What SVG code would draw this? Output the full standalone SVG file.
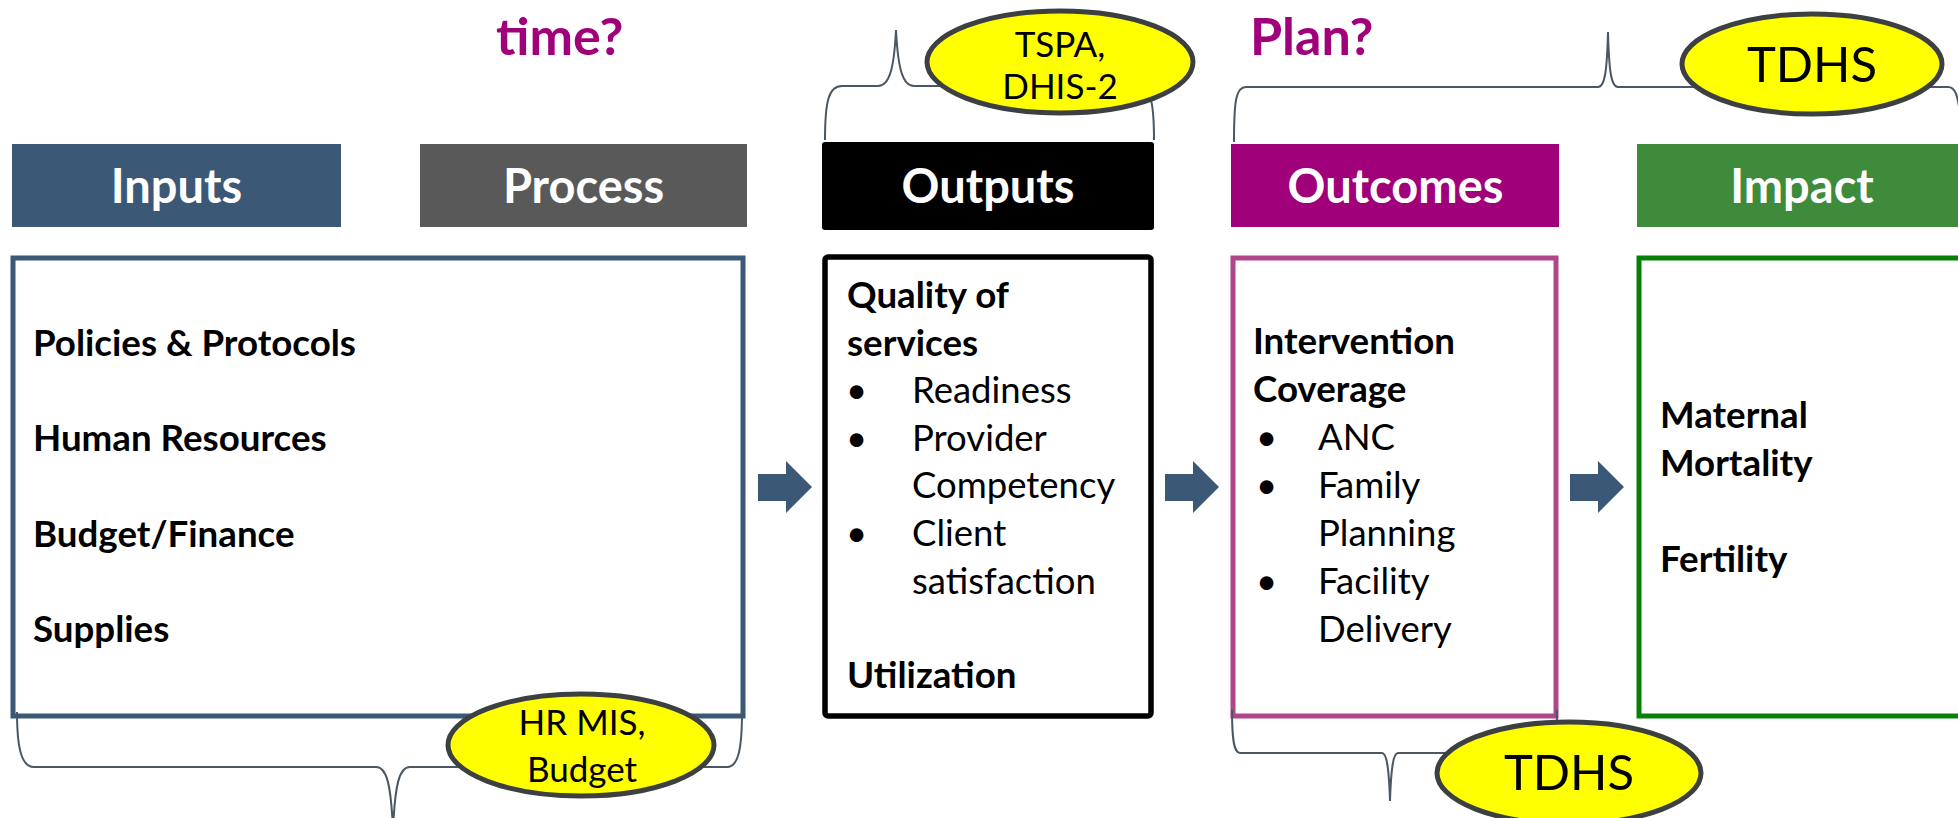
<svg xmlns="http://www.w3.org/2000/svg" width="1958" height="818" viewBox="0 0 1958 818">
<defs>
<style>
.hdr{font-family:Lato,"Open Sans","Liberation Sans",sans-serif;font-weight:700;font-size:47px;fill:#fff;text-anchor:middle}
.b{font-family:Lato,"Open Sans","Liberation Sans",sans-serif;font-weight:700;font-size:36.7px;fill:#000}
.r{font-family:Lato,"Open Sans","Liberation Sans",sans-serif;font-weight:400;font-size:36.5px;fill:#000}
.q{font-family:Lato,"Open Sans","Liberation Sans",sans-serif;font-weight:700;font-size:52px;fill:#A0007A}
.et{font-family:Lato,"Open Sans","Liberation Sans",sans-serif;font-weight:400;font-size:35px;fill:#000;text-anchor:middle}
.eb{font-family:Lato,"Open Sans","Liberation Sans",sans-serif;font-weight:400;font-size:49px;fill:#000;text-anchor:middle}
.brace{fill:none;stroke:#4B5763;stroke-width:2}
.ell{fill:#FFFF00;stroke:#3C4043;stroke-width:5}
.arrow{fill:#3B5877}
</style>
</defs>
<rect width="1958" height="818" fill="#fff"/>

<text class="q" x="496" y="55">time?</text>
<text class="q" x="1250" y="55">Plan?</text>

<g id="inputs">
<rect x="12" y="144" width="329" height="83" fill="#3B5877"/>
<text class="hdr" x="176.5" y="203">Inputs</text>
<rect x="13" y="258" width="730" height="458" fill="none" stroke="#3B5877" stroke-width="5"/>
<text class="b" x="33" y="356">Policies &amp; Protocols</text>
<text class="b" x="33" y="451">Human Resources</text>
<text class="b" x="33" y="547">Budget/Finance</text>
<text class="b" x="33" y="642">Supplies</text>
</g>

<g id="process">
<rect x="420" y="144" width="327" height="83" fill="#595959"/>
<text class="hdr" x="583.5" y="203">Process</text>
</g>

<g id="outputs">
<rect x="822" y="142" width="332" height="88" rx="3" fill="#000"/>
<text class="hdr" x="988" y="203">Outputs</text>
<rect x="825" y="257" width="326" height="459" rx="3" fill="none" stroke="#000" stroke-width="5.5"/>
<text class="b" x="847" y="308">Quality of</text>
<text class="b" x="847" y="356">services</text>
<text class="r" x="846" y="403">•</text>
<text class="r" x="912" y="403">Readiness</text>
<text class="r" x="846" y="451">•</text>
<text class="r" x="912" y="451">Provider</text>
<text class="r" x="912" y="498">Competency</text>
<text class="r" x="846" y="546">•</text>
<text class="r" x="912" y="546">Client</text>
<text class="r" x="912" y="594">satisfaction</text>
<text class="b" x="847" y="688">Utilization</text>
</g>

<g id="outcomes">
<rect x="1231" y="144" width="328" height="83" fill="#A0007A"/>
<text class="hdr" x="1395.5" y="203">Outcomes</text>
<rect x="1233" y="258" width="323" height="458" fill="none" stroke="#B0458A" stroke-width="5"/>
<text class="b" x="1253" y="354">Intervention</text>
<text class="b" x="1253" y="402">Coverage</text>
<text class="r" x="1256" y="450">•</text>
<text class="r" x="1318" y="450">ANC</text>
<text class="r" x="1256" y="498">•</text>
<text class="r" x="1318" y="498">Family</text>
<text class="r" x="1318" y="546">Planning</text>
<text class="r" x="1256" y="594">•</text>
<text class="r" x="1318" y="594">Facility</text>
<text class="r" x="1318" y="642">Delivery</text>
</g>

<g id="impact">
<rect x="1637" y="144" width="330" height="83" fill="#3F8B3C"/>
<text class="hdr" x="1802" y="203">Impact</text>
<rect x="1639" y="258" width="330" height="458" fill="none" stroke="#078007" stroke-width="5"/>
<text class="b" x="1660" y="428">Maternal</text>
<text class="b" x="1660" y="476">Mortality</text>
<text class="b" x="1660" y="572">Fertility</text>
</g>

<g id="connectors">
<path class="arrow" d="M758,474 H786 V461 L812,487 L786,513 V501 H758 Z"/>
<path class="arrow" d="M1165,474 H1193 V461 L1219,487 L1193,513 V501 H1165 Z"/>
<path class="arrow" d="M1570,474 H1598 V461 L1624,487 L1598,513 V501 H1570 Z"/>
<path class="brace" d="M825,140 C825,100 829,86 842,86 L878,86 C889,86 894,70 896,30 C898,70 903,86 914,86 L1138,86 C1150,86 1154,100 1154,140"/>
<path class="brace" d="M1234,142 C1234,100 1236,87 1246,87 L1598,87 C1605,87 1607,70 1608,32 C1609,70 1611,87 1618,87 L1948,87 C1955,87 1958,95 1960,115"/>
<path class="brace" d="M17,712 C17,750 22,767 34,767 L376,767 C387,767 391,785 393,830 C395,785 399,767 410,767 L727,767 C738,767 742,750 742,712"/>
<path class="brace" d="M1232,710 C1232,740 1234,753 1240,753 L1382,753 C1387,753 1389,770 1390,801 C1391,770 1393,753 1398,753 L1550,753 C1555,753 1557,740 1557,710"/>
</g>

<g id="tspa">
<ellipse class="ell" cx="1060" cy="62" rx="133" ry="51"/>
<text class="et" x="1060" y="57">TSPA,</text>
<text class="et" x="1060" y="99">DHIS-2</text>
</g>
<g id="tdhs-top">
<ellipse class="ell" cx="1812" cy="64" rx="130" ry="50"/>
<text class="eb" x="1812" y="82">TDHS</text>
</g>
<g id="hrmis">
<ellipse class="ell" cx="581" cy="745" rx="133" ry="51"/>
<text class="et" x="582" y="735">HR MIS,</text>
<text class="et" x="582" y="782">Budget</text>
</g>
<g id="tdhs-bottom">
<ellipse class="ell" cx="1569" cy="773" rx="132" ry="51"/>
<text class="eb" x="1569" y="790">TDHS</text>
</g>
</svg>
